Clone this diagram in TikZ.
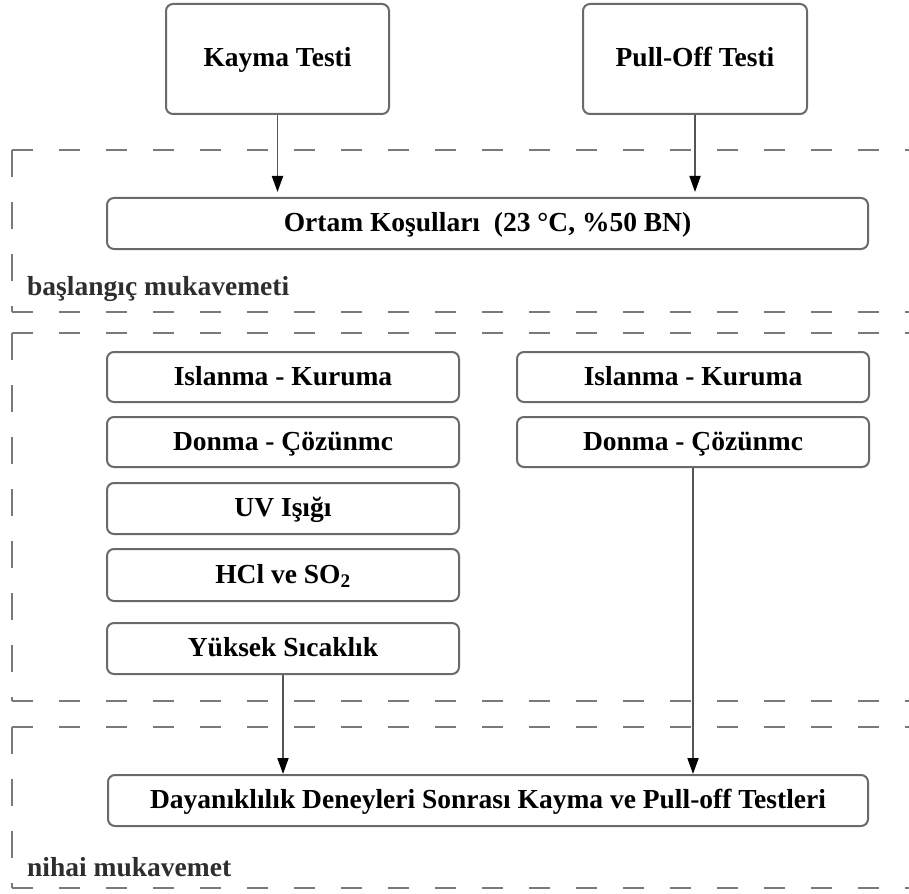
\documentclass[tikz,border=0pt]{standalone}
\usepackage{fontspec}
\setmainfont{Liberation Serif}
\usetikzlibrary{arrows.meta}
\definecolor{boxgray}{HTML}{6A6A6A}
\definecolor{dashgray}{HTML}{7A7A7A}
\definecolor{labgray}{HTML}{2E2E2E}
\definecolor{linegray}{HTML}{555555}
\begin{document}
\begin{tikzpicture}[x=1pt,y=-1pt,
  box/.style={draw=boxgray, line width=2pt, rounded corners=7pt, inner sep=0pt,
    text height=20pt, text depth=4pt,
    align=center, font=\fontsize{27.5}{31}\selectfont\bfseries},
  region/.style={draw=dashgray, line width=2.5pt, dash pattern=on 21pt off 26pt},
  vregion/.style={draw=dashgray, line width=2.5pt, dash pattern=on 27pt off 25pt},
  conn/.style={draw=linegray, line width=1.8pt,
    -{Triangle[length=16pt,width=11pt,color=black]}},
  lab/.style={anchor=base west, text=labgray, inner sep=0pt,
    font=\fontsize{27.5}{31}\selectfont\bfseries}
]
\useasboundingbox (0,0) rectangle (909,893);
\clip (0,0) rectangle (909,893);

% dashed regions
\draw[region] (12,150) -- (930,150);
\draw[vregion] (12,150) -- (12,312);
\draw[region] (12,312) -- (930,312);

\draw[region] (12,333) -- (930,333);
\draw[vregion] (12,333) -- (12,701);
\draw[region] (12,701) -- (930,701);

\draw[region] (12,727) -- (930,727);
\draw[vregion] (12,727) -- (12,888);
\draw[region] (12,888) -- (930,888);

% boxes
\node[box, minimum width=223pt, minimum height=110pt] (kayma) at (277.5,59) {Kayma Testi};
\node[box, minimum width=224pt, minimum height=110pt] (pull) at (695,59) {Pull-Off Testi};
\node[box, minimum width=761pt, minimum height=51pt] (ortam) at (487.5,223.5) {Ortam Koşulları\ \ (23 °C, \%50 BN)};

\node[box, minimum width=352pt, minimum height=50pt] (lislanma) at (283,377) {Islanma - Kuruma};
\node[box, minimum width=352pt, minimum height=50pt] (ldonma) at (283,442) {Donma - Çözünmc};
\node[box, minimum width=352pt, minimum height=51pt] (luv) at (283,508.5) {UV Işığı};
\node[box, minimum width=352pt, minimum height=52pt] (lhcl) at (283,575) {HCl ve SO\textsubscript{2}};
\node[box, minimum width=352pt, minimum height=51pt] (lyuksek) at (283,648.5) {Yüksek Sıcaklık};

\node[box, minimum width=352pt, minimum height=50pt] (rislanma) at (693,377) {Islanma - Kuruma};
\node[box, minimum width=352pt, minimum height=50pt] (rdonma) at (693,442) {Donma - Çözünmc};

\node[box, minimum width=760pt, minimum height=51pt] (dayan) at (488,800.5) {Dayanıklılık Deneyleri Sonrası Kayma ve Pull-off Testleri};

% labels
\node[lab] (lab1) at (27,295) {başlangıç mukavemeti};
\node[lab] (lab2) at (27,876) {nihai mukavemet};

% connectors
\draw[conn, shorten >=5pt] (kayma.south) -- (ortam.north -| kayma.south);
\draw[conn, shorten >=5pt] (pull.south) -- (ortam.north -| pull.south);
\draw[conn] (lyuksek.south) -- (dayan.north -| lyuksek.south);
\draw[conn] (rdonma.south) -- (dayan.north -| rdonma.south);
\end{tikzpicture}
\end{document}
